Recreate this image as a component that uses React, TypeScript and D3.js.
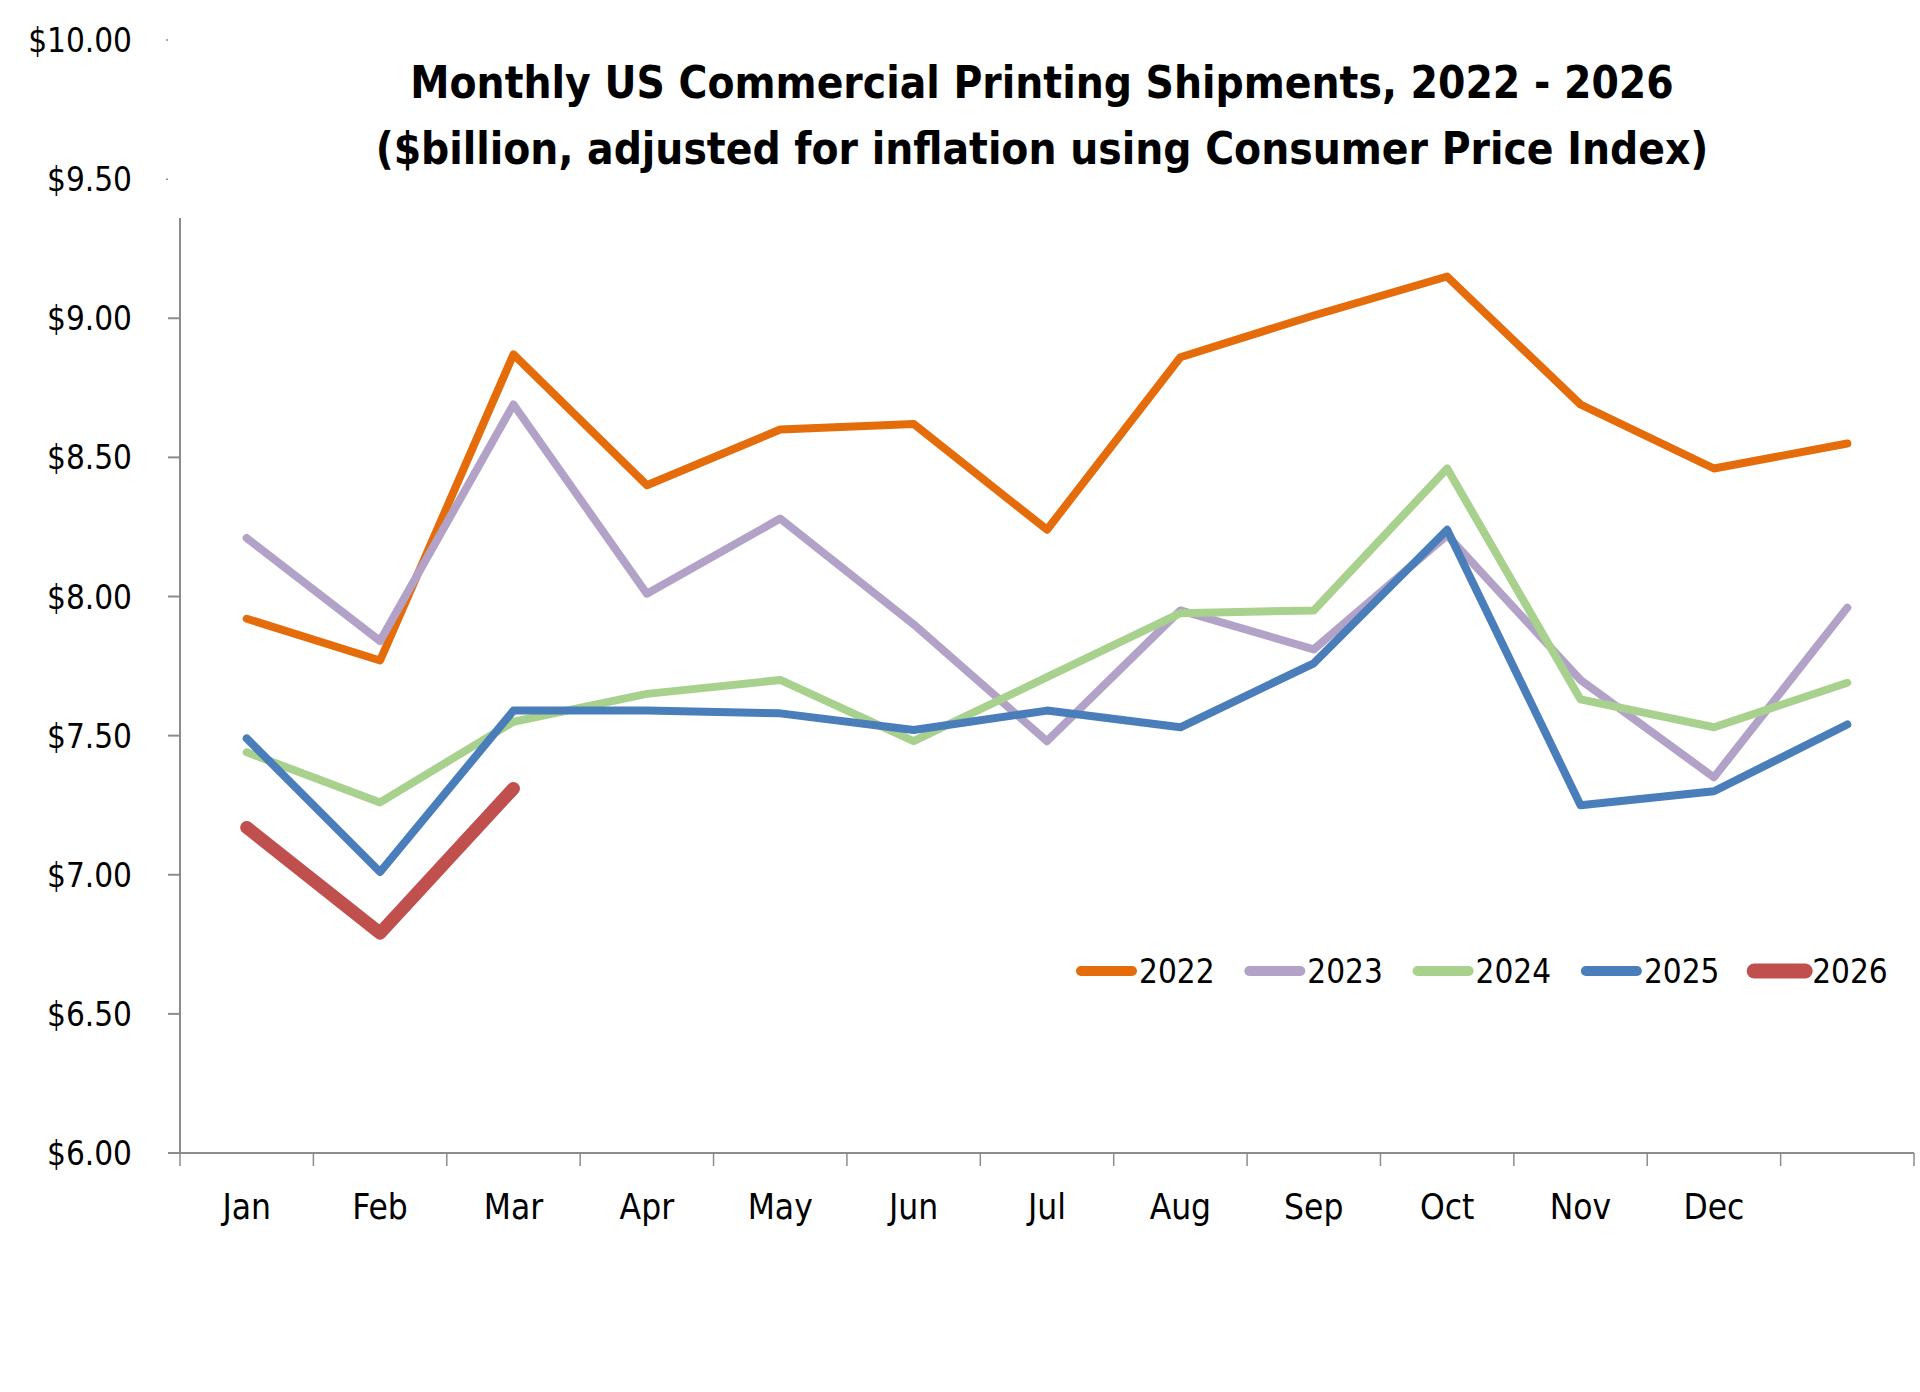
import * as d3 from 'd3';
import { useLayoutEffect, useRef, useState } from 'react';

// Categories (13th slot has no label in the source chart)
const months = ['Jan', 'Feb', 'Mar', 'Apr', 'May', 'Jun', 'Jul', 'Aug', 'Sep', 'Oct', 'Nov', 'Dec', ''];

// Series values, $billion
const years = ['2022', '2023', '2024', '2025', '2026'];
const values2022 = [7.92, 7.77, 8.87, 8.40, 8.60, 8.62, 8.24, 8.86, 9.01, 9.15, 8.69, 8.46, 8.55];
const values2023 = [8.21, 7.84, 8.69, 8.01, 8.28, 7.90, 7.48, 7.95, 7.81, 8.22, 7.70, 7.35, 7.96];
const values2024 = [7.44, 7.26, 7.55, 7.65, 7.70, 7.48, 7.71, 7.94, 7.95, 8.46, 7.63, 7.53, 7.69];
const values2025 = [7.49, 7.01, 7.59, 7.59, 7.58, 7.52, 7.59, 7.53, 7.76, 8.24, 7.25, 7.30, 7.54];
const values2026 = [7.17, 6.79, 7.31];
const seriesValues = [values2022, values2023, values2024, values2025, values2026];

// Y ticks
const yTicks = [6, 6.5, 7, 7.5, 8, 8.5, 9, 9.5, 10];

// Title lines
const titleLines = [
  'Monthly US Commercial Printing Shipments, 2022 - 2026',
  '($billion, adjusted for inflation using Consumer Price Index)',
];

const colors = ['#E46C0A', '#B3A2C7', '#A9D18E', '#4A7EBB', '#C0504D'];
const strokeWidths = [8, 8, 8, 8, 13];

const FONT = "'Liberation Sans Narrow', 'DejaVu Sans Condensed', 'DejaVu Sans', sans-serif";

const App = () => {
  const width = 1920, height = 1392;
  const left = 180, right = 1914, bottom = 1153, plotTop = 218;

  // fit title font size to the width of the first line in the reference
  const titleRef = useRef<SVGTextElement>(null);
  const [titleSize, setTitleSize] = useState(53);
  useLayoutEffect(() => {
    const el = titleRef.current;
    if (!el) return;
    const w = el.getComputedTextLength();
    if (w > 0) setTitleSize(s => Math.min(56, (s * 1264) / w));
  }, []);

  const x = d3.scaleBand<string>().domain(months).range([left, right]).paddingInner(0).paddingOuter(0);
  const y = d3.scaleLinear().domain([6, 10]).range([bottom, 40]);
  const bw = x.bandwidth();

  const line = d3.line<number>()
    .x((_, i) => (x(months[i]) as number) + bw / 2)
    .y(d => y(d));

  const axisColor = '#8c8c8c';

  return (
    <svg width={width} height={height} style={{ position: 'absolute', left: 0, top: 0, background: '#fff' }}
      fontFamily={FONT} fontStretch="condensed">
      <rect x={0} y={0} width={width} height={height} fill="#fff" />

      {/* Title */}
      <text ref={titleRef} x={1042} y={98} textAnchor="middle" fontSize={titleSize} fontWeight="bold" fill="#000">
        {titleLines[0]}
      </text>
      <text x={1042} y={164} textAnchor="middle" fontSize={titleSize} fontWeight="bold" fill="#000">
        {titleLines[1]}
      </text>

      {/* Y axis */}
      <line x1={left} x2={left} y1={plotTop} y2={bottom} stroke={axisColor} strokeWidth={2} />
      {yTicks.map(t => {
        const ty = y(t);
        const inside = ty >= plotTop;
        return (
          <g key={t}>
            {inside
              ? <line x1={left - 12} x2={left} y1={ty} y2={ty} stroke={axisColor} strokeWidth={2} />
              : <line x1={left - 14} x2={left - 12} y1={ty} y2={ty} stroke={axisColor} strokeWidth={1.5} />}
            <text x={132} y={ty + 12} textAnchor="end" fontSize={33} fill="#000">
              {d3.format('$.2f')(t)}
            </text>
          </g>
        );
      })}

      {/* X axis */}
      <line x1={left} x2={right} y1={bottom} y2={bottom} stroke={axisColor} strokeWidth={2} />
      {d3.range(months.length + 1).map(i => (
        <line key={i} x1={left + i * bw} x2={left + i * bw} y1={bottom} y2={bottom + 13}
          stroke={axisColor} strokeWidth={1.5} />
      ))}
      {months.map(m => (
        <text key={m || 'blank'} x={(x(m) as number) + bw / 2} y={1219} textAnchor="middle" fontSize={35} fill="#000">
          {m}
        </text>
      ))}

      {/* Series lines */}
      {seriesValues.map((vals, k) => (
        <path key={years[k]} d={line(vals) || ''} fill="none" stroke={colors[k]}
          strokeWidth={strokeWidths[k]} strokeLinecap="round" strokeLinejoin="round" />
      ))}

      {/* Legend */}
      {years.map((yr, k) => {
        const lx = 1077 + k * 168.3;
        return (
          <g key={yr}>
            <line x1={lx + 4} x2={lx + 55} y1={971} y2={971} stroke={colors[k]}
              strokeWidth={strokeWidths[k] + 2} strokeLinecap="round" />
            <text x={lx + 62} y={983} fontSize={33} fill="#000">{yr}</text>
          </g>
        );
      })}
    </svg>
  );
};

export default App;
